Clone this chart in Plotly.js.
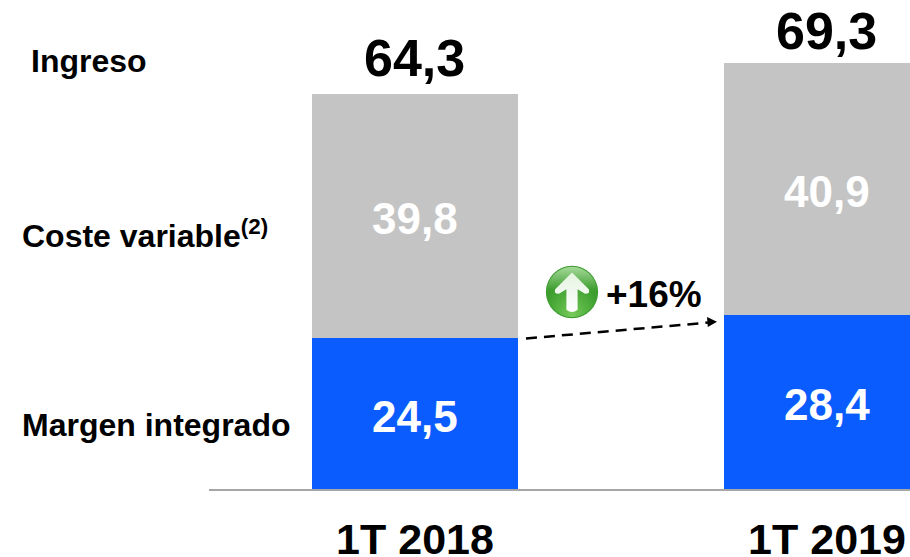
<!DOCTYPE html>
<html>
<head>
<meta charset="utf-8">
<script src="https://cdn.plot.ly/plotly-3.0.1.min.js"></script>
<style>html,body{margin:0;padding:0;background:#fff;overflow:hidden}#chart{width:910px;height:557px}</style>
</head>
<body>
<div id="chart"></div>
<script>
const periods = ["1T 2018", "1T 2019"];
const margen = [24.5, 28.4];
const coste = [39.8, 40.9];
const ingreso = [64.3, 69.3];
const rowLabels = ["Ingreso", "Coste variable<sup>(2)</sup>", "Margen integrado"];
const growthLabel = "+16%";

const W = 910, H = 557, L = 209, B = 68;
const font = "Liberation Sans, Arial, sans-serif";
const fmt = v => v.toFixed(1).replace(".", ",");
const px = x => (x - L) / (W - L);
const py = y => ((H - B) - y) / (H - B);

const icon = "data:image/svg+xml;base64," + btoa(`<svg xmlns="http://www.w3.org/2000/svg" width="60" height="60" viewBox="0 0 60 60">
<defs>
<linearGradient id="g" x1="0" y1="0" x2="0" y2="1"><stop offset="0" stop-color="#a5d99a"/><stop offset="0.45" stop-color="#3f9f30"/><stop offset="1" stop-color="#2f9a25"/></linearGradient>
<radialGradient id="h" cx="0.5" cy="0.95" r="0.6"><stop offset="0" stop-color="#7fd060" stop-opacity="0.9"/><stop offset="1" stop-color="#7fd060" stop-opacity="0"/></radialGradient>
<linearGradient id="a" x1="0" y1="0" x2="0" y2="1"><stop offset="0" stop-color="#e4f3df"/><stop offset="1" stop-color="#ffffff"/></linearGradient>
</defs>
<circle cx="30" cy="30" r="28" fill="#3a9a2c"/>
<circle cx="30" cy="30" r="27" fill="url(#g)"/>
<circle cx="30" cy="30" r="27" fill="url(#h)"/>
<path d="M30 9 L48 27 Q50 32 44 32 L36 27 L36 49 Q30 54 24 49 L24 27 L16 32 Q10 32 12 27 Z" fill="url(#a)"/>
</svg>`);

const traces = [
  {type: "bar", x: periods, y: margen, width: 0.5, marker: {color: "#0a5cff", line: {width: 0}}, cliponaxis: false},
  {type: "bar", x: periods, y: coste, width: 0.5, marker: {color: "#c4c4c4", line: {width: 0}}, cliponaxis: false}
];

const ann = [];
const valueFont = {family: font, size: 44, color: "#ffffff", weight: 700};
periods.forEach((p, i) => {
  ann.push({x: p, y: margen[i] / 2, xref: "x", yref: "y", text: fmt(margen[i]), showarrow: false, yshift: -2.5, font: valueFont});
  ann.push({x: p, y: margen[i] + coste[i] / 2, xref: "x", yref: "y", text: fmt(coste[i]), showarrow: false, yshift: -2.5, font: valueFont});
});
const totalShift = [5, 1];
ingreso.forEach((v, i) => ann.push({
  x: periods[i], y: v, xref: "x", yref: "y", text: fmt(v), showarrow: false,
  yanchor: "bottom", yshift: totalShift[i], font: {family: font, size: 52, color: "#000", weight: 700}
}));
[[29, 61], [20, 234], [20, 425]].forEach((p, i) => ann.push({
  x: px(p[0]), y: py(p[1]), xref: "paper", yref: "paper", xanchor: "left", yanchor: "middle",
  text: rowLabels[i], showarrow: false, font: {family: font, size: 32, color: "#000", weight: 700}
}));
ann.push({x: px(653.5), y: py(294), xref: "paper", yref: "paper", text: growthLabel, showarrow: false,
  font: {family: font, size: 37, color: "#000", weight: 700}});

const layout = {
  width: W, height: H, margin: {l: L, r: 0, t: 0, b: B, pad: 0},
  paper_bgcolor: "#fff", plot_bgcolor: "#fff", barmode: "stack", showlegend: false,
  xaxis: {type: "category", categoryorder: "array", categoryarray: periods, range: [-0.5, 1.2015],
    showgrid: false, zeroline: false, showline: true, linecolor: "#a6a6a6", linewidth: 2, ticks: "",
    ticklabelstandoff: 11, tickfont: {family: font, size: 43, color: "#000", weight: 700}},
  yaxis: {range: [0, 79.6], visible: false, showgrid: false, zeroline: false},
  annotations: ann,
  shapes: [
    {type: "line", xref: "paper", yref: "paper", x0: px(526), y0: py(338.5), x1: px(708), y1: py(322.6),
     line: {color: "#000", width: 2.5, dash: "11px,7px"}},
    {type: "path", xref: "paper", yref: "paper", fillcolor: "#000", line: {width: 0},
     path: `M ${px(717)} ${py(321.7)} L ${px(707)} ${py(317)} L ${px(707.8)} ${py(327)} Z`}
  ],
  images: [{source: icon, xref: "paper", yref: "paper", x: px(544), y: py(264), sizex: 56 / (W - L), sizey: 56 / (H - B),
    xanchor: "left", yanchor: "top", sizing: "stretch", layer: "above"}]
};
Plotly.newPlot("chart", traces, layout, {displayModeBar: false, staticPlot: true});
</script>
</body>
</html>
